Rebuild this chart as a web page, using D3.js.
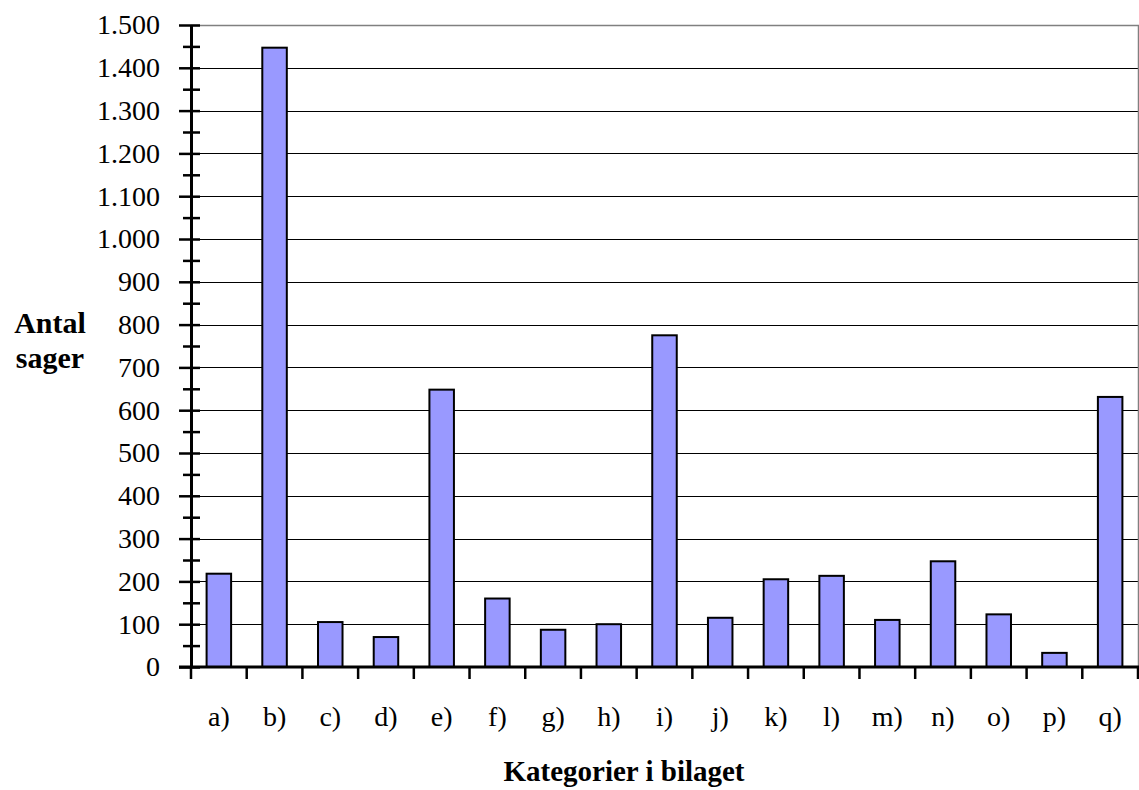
<!DOCTYPE html>
<html>
<head>
<meta charset="utf-8">
<script src="https://cdn.jsdelivr.net/npm/d3@7"></script>
<style>
  html, body { margin: 0; padding: 0; background: #fff; }
  svg { display: block; }
  .serif { font-family: "Liberation Serif", "Tinos", "Times New Roman", Times, "DejaVu Serif", serif; }
</style>
</head>
<body>
<svg id="chart" width="1139" height="790"></svg>
<script>
// ---- data ----
const categories = ["a)", "b)", "c)", "d)", "e)", "f)", "g)", "h)", "i)", "j)", "k)", "l)", "m)", "n)", "o)", "p)", "q)"];
const values = [218, 1447, 105, 70, 648, 160, 87, 100, 775, 115, 205, 213, 110, 247, 123, 33, 631];
const yTicks = [0, 100, 200, 300, 400, 500, 600, 700, 800, 900, 1000, 1100, 1200, 1300, 1400, 1500];
const yMinorTicks = [50, 150, 250, 350, 450, 550, 650, 750, 850, 950, 1050, 1150, 1250, 1350, 1450];
const yTitle = ["Antal", "sager"];
const xTitle = "Kategorier i bilaget";

// ---- layout ----
const svg = d3.select("#chart");
const pLeft = 191, pRight = 1138, pTop = 25, pBottom = 667;

const x = d3.scaleBand().domain(categories).range([pLeft, pRight])
  .paddingInner(0.56).paddingOuter(0.28);
const y = d3.scaleLinear().domain([0, 1500]).range([pBottom, pTop]);

const loc = d3.formatLocale({decimal: ",", thousands: ".", grouping: [3], currency: ["", ""]});
const fmt = loc.format(",d");

// gridlines
svg.append("g").selectAll("line").data(yTicks.filter(v => v > 0 && v < 1500)).join("line")
  .attr("x1", pLeft).attr("x2", pRight)
  .attr("y1", d => Math.round(y(d)) + 0.5).attr("y2", d => Math.round(y(d)) + 0.5)
  .attr("stroke", "#000").attr("stroke-width", 1);

// plot border (top & right)
svg.append("path")
  .attr("d", `M${pLeft},${pTop + 0.5}H${pRight + 0.5}V${pBottom}`)
  .attr("fill", "none").attr("stroke", "#808080").attr("stroke-width", 1.5);

// bars
svg.append("g").selectAll("rect").data(categories).join("rect")
  .attr("x", d => x(d))
  .attr("y", (d, i) => y(values[i]))
  .attr("width", x.bandwidth())
  .attr("height", (d, i) => pBottom - y(values[i]))
  .attr("fill", "#9999FF")
  .attr("stroke", "#000").attr("stroke-width", 2);

// y axis (major)
const yAxis = d3.axisLeft(y).tickValues(yTicks).tickFormat(fmt)
  .tickSizeInner(12).tickSizeOuter(0).tickPadding(19);
const gy = svg.append("g").attr("transform", `translate(${pLeft},0)`).call(yAxis);
gy.attr("font-family", null).attr("font-size", null);
gy.select(".domain").attr("stroke", "#000").attr("stroke-width", 3);
gy.selectAll(".tick line").attr("x2", -12).attr("x1", 9).attr("stroke", "#000").attr("stroke-width", 2.5);
gy.selectAll(".tick text").attr("class", "serif").attr("font-size", 28).attr("fill", "#000");

// y axis (minor)
const yMinor = d3.axisLeft(y).tickValues(yMinorTicks).tickFormat("").tickSizeInner(8).tickSizeOuter(0);
const gym = svg.append("g").attr("transform", `translate(${pLeft},0)`).call(yMinor);
gym.select(".domain").remove();
gym.selectAll(".tick line").attr("x2", -8).attr("x1", 9).attr("stroke", "#000").attr("stroke-width", 2.5);

// x axis
const step = x.step();
const boundaries = d3.range(categories.length + 1).map(i => pLeft + i * step);
svg.append("line").attr("x1", pLeft - 12).attr("x2", pRight + 1)
  .attr("y1", pBottom).attr("y2", pBottom).attr("stroke", "#000").attr("stroke-width", 3);
svg.append("g").selectAll("line").data(boundaries).join("line")
  .attr("x1", d => d).attr("x2", d => d)
  .attr("y1", pBottom).attr("y2", pBottom + 12)
  .attr("stroke", "#000").attr("stroke-width", 2.5);

const xAxis = d3.axisBottom(x).tickSize(0).tickPadding(0);
const gx = svg.append("g").attr("transform", `translate(0,${pBottom})`).call(xAxis);
gx.attr("font-family", null).attr("font-size", null);
gx.select(".domain").remove();
gx.selectAll(".tick text").attr("class", "serif").attr("font-size", 28).attr("fill", "#000")
  .attr("dy", null).attr("y", 59);

// titles
svg.append("text").attr("class", "serif").attr("x", 624).attr("y", 781).attr("text-anchor", "middle")
  .attr("font-weight", "bold").attr("font-size", 29).text(xTitle);
svg.append("text").attr("class", "serif").attr("font-weight", "bold").attr("font-size", 30)
  .attr("text-anchor", "middle")
  .selectAll("tspan").data(yTitle).join("tspan")
  .attr("x", 50).attr("y", (d, i) => 333 + i * 35).text(d => d);
</script>
</body>
</html>
